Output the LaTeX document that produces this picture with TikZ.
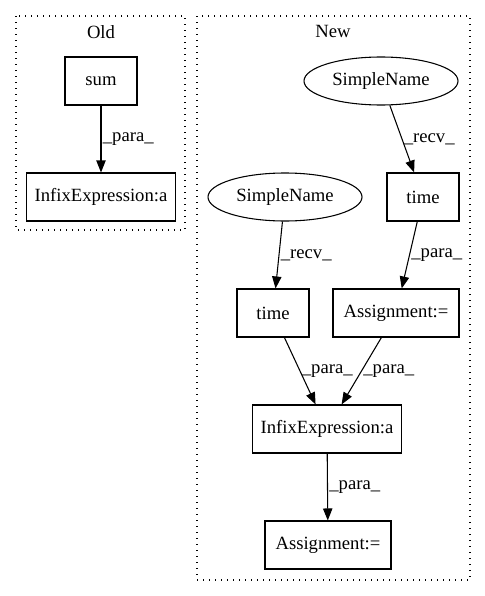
\documentclass[tikz,border=0pt]{standalone}
\usepackage{fontspec}
\setmainfont{Liberation Serif}
\usetikzlibrary{shapes}
\usetikzlibrary{arrows.meta}
\tikzset{
  font={\fontsize{14pt}{16pt}\selectfont}}

\begin{document}
\begin{tikzpicture}[x = 0.75pt, y = -0.75pt]

    \tikzset{edge/.style = {-{Triangle[length=9pt,width=7pt]}, line width=0.8pt}}
    \tikzset{box/.style = {draw=black, rectangle, line width=0.8pt, inner sep=0pt, minimum height=36pt}}
    \tikzset{blob/.style = {draw=black, ellipse, line width=0.8pt, inner sep=0pt, minimum width=115.5pt, minimum height=36pt}}
    \tikzset{lbl/.style = {right, inner sep=1pt}}
    \tikzset{cluster/.style = {draw=black, line width=0.8pt, dash pattern=on 1pt off 3.5pt}}

    \useasboundingbox (0,0) rectangle (485,596);

    % clusters
    \draw[cluster] (16,16) rectangle (185,230);
    \draw[cluster] (197,16) rectangle (470,580);
    \node (old) at (101,32) {Old};
    \node (new) at (333,31) {New};

    % vertices
    \node[box, minimum width=54pt] (sum) at (101,81) {sum};
    \node[box, minimum width=111.75pt] (oldinfix) at (101,197) {InfixExpression:a};
    \node[blob] (sn1) at (381,81) {SimpleName};
    \node[box, minimum width=54pt] (time1) at (423,197) {time};
    \node[blob] (sn2) at (285,197) {SimpleName};
    \node[box, minimum width=54pt] (time2) at (273,313) {time};
    \node[box, minimum width=94.5pt] (assign1) at (396,313) {Assignment:=};
    \node[box, minimum width=111.75pt] (infix) at (327,429) {InfixExpression:a};
    \node[box, minimum width=94.5pt] (assign2) at (328,545) {Assignment:=};

    %edges
    \draw[edge] (sum) to node [lbl] {\_para\_} (oldinfix);
    \draw[edge] (sn1) to node [lbl] {\_recv\_} (time1);
    \draw[edge] (sn2) to node [lbl] {\_recv\_} (time2);
    \draw[edge] (time1) to node [lbl] {\_para\_} (assign1);
    \draw[edge] (time2) to node [lbl] {\_para\_} (infix);
    \draw[edge] (assign1) to node [lbl] {\_para\_} (infix);
    \draw[edge] (infix) to node [lbl] {\_para\_} (assign2);

\end{tikzpicture}
\end{document}
